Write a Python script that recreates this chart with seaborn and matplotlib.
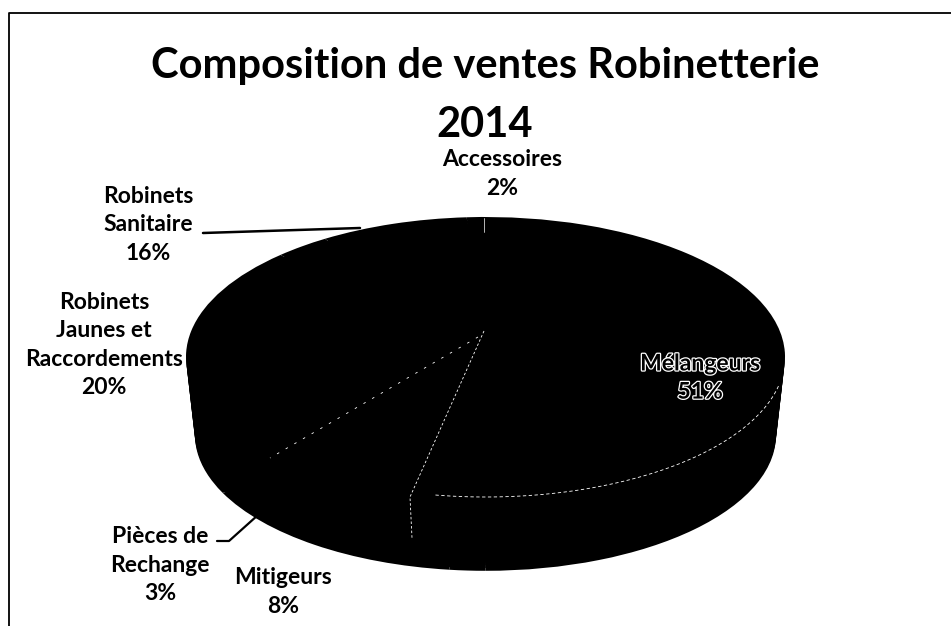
import matplotlib
matplotlib.use('Agg')
import matplotlib.pyplot as plt
import matplotlib.patheffects as pe
import numpy as np
import seaborn as sns

title_lines = ['Composition de ventes Robinetterie', '2014']
categories = ['Mélangeurs', 'Mitigeurs', 'Pièces de\nRechange', 'Robinets\nJaunes et\nRaccordements', 'Robinets\nSanitaire', 'Accessoires']
shares = [51, 8, 3, 20, 16, 2]

sns.set_theme(style='white')
plt.rcParams['font.family'] = ['Lato', 'DejaVu Sans']

W, H = 951, 626
fig = plt.figure(figsize=(W / 100, H / 100), dpi=100, facecolor='white')
ax = fig.add_axes([0, 0, 1, 1])

# squashed pie, stacked from the bottom up to get the 3D side
black = sns.color_palette(['#000000'], len(shares))
cx, cy, rx, ry = 485.5, 357, 299.5, 140
depth = 78
for d in range(depth, -1, -3):
    ax.pie(shares, colors=black, startangle=90, counterclock=False,
           radius=1 - 0.03 * d / depth, center=(0, d / ry), wedgeprops={'linewidth': 0})
ax.set_aspect('auto')
ax.set_xlim(-cx / rx, (W - cx) / rx)
ax.set_ylim((H - cy) / ry, -cy / ry)
ax.set_axis_off()


def px(x, y):
    return (x - cx) / rx, (y - cy) / ry


# faint slice edges left over on the black top
edge_kw = dict(color='white', lw=0.6)
ax.plot(*zip(px(484, 331), px(410, 497), px(412, 538)), ls=(0, (3, 2.5)), **edge_kw)
ax.plot(*zip(px(478, 337), px(270, 458)), ls=(0, (3, 9)), **edge_kw)
ax.plot(*zip(px(484, 218), px(484, 232)), color='white', lw=0.5)
t = np.radians(np.linspace(12, 100, 80))
ax.plot(np.cos(t), np.sin(t), ls=(0, (4, 3)), **edge_kw)

title_kw = dict(ha='center', va='baseline', fontsize=30, fontweight='bold', color='black')
fig.text(485 / W, 1 - 78 / H, title_lines[0], **title_kw)
fig.text(485 / W, 1 - 137 / H, title_lines[1], **title_kw)

lab_kw = dict(ha='center', va='center', fontsize=16.5, fontweight='bold', color='black', linespacing=1.42)
positions = [(700, 378), (283, 592), (160, 565), (104, 345), (148, 225), (502, 174)]
for name, share, (x, y) in zip(categories, shares, positions):
    kw = dict(lab_kw)
    if name == 'Mélangeurs':
        # outlined label on the black top
        kw['path_effects'] = [pe.withStroke(linewidth=1.8, foreground='white')]
    fig.text(x / W, 1 - y / H, f'{name}\n{share}%', **kw)

# leader lines
ax.plot(*zip(px(203, 233), px(360, 228)), color='black', lw=1.8)
ax.plot(*zip(px(217, 541), px(229, 541), px(258, 515)), color='black', lw=1.6)

# scanned frame, left and top only
ax.plot(*zip(px(9, 626), px(9, 13), px(951, 13)), color='black', lw=1.3)

fig.savefig('out.png', dpi=100)
